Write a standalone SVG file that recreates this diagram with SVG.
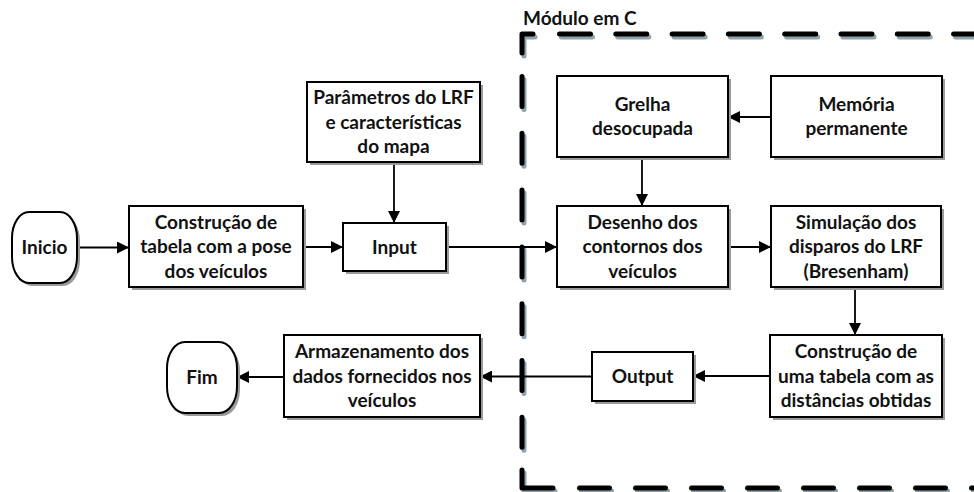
<svg xmlns="http://www.w3.org/2000/svg" width="974" height="492" viewBox="0 0 974 492">
<style>
.box{fill:#fff;stroke:#000;stroke-width:2}
.sh{fill:#9a9a9a;stroke:none}
.t{font-family:Lato,"Liberation Sans",sans-serif;font-weight:bold;font-size:19px;fill:#111;text-anchor:middle}
.lbl{font-family:Lato,"Liberation Sans",sans-serif;font-weight:bold;font-size:19px;fill:#111}
.c{fill:none;stroke:#000;stroke-width:1.8;marker-end:url(#ah)}
.d{fill:none;stroke:#000;stroke-width:5;stroke-linecap:round;stroke-linejoin:round}
.ds{fill:none;stroke:#8fa3ad;stroke-width:5;stroke-linecap:round;stroke-linejoin:round}
</style>
<defs>
<marker id="ah" markerUnits="userSpaceOnUse" markerWidth="13" markerHeight="12" refX="12" refY="6" orient="auto">
<path d="M0,0 L12,6 L0,12 Z" fill="#000"/>
</marker>
</defs>
<rect width="974" height="492" fill="#fff"/>

<g id="module">
<text class="lbl" x="523" y="25">Módulo em C</text>
<g transform="translate(2,3)">
<path class="ds" d="M533 34 H522 V53"/>
<line class="ds" x1="559.5" y1="34" x2="990" y2="34" stroke-dasharray="31 25.3"/>
<line class="ds" x1="522" y1="76.5" x2="522" y2="448.5" stroke-dasharray="30 26.8"/>
<path class="ds" d="M522 470 V488 H553"/>
<line class="ds" x1="579.5" y1="488" x2="990" y2="488" stroke-dasharray="30 26"/>
</g>
<path class="d" d="M533 34 H522 V53"/>
<line class="d" x1="559.5" y1="34" x2="990" y2="34" stroke-dasharray="31 25.3"/>
<line class="d" x1="522" y1="76.5" x2="522" y2="448.5" stroke-dasharray="30 26.8"/>
<path class="d" d="M522 470 V488 H553"/>
<line class="d" x1="579.5" y1="488" x2="990" y2="488" stroke-dasharray="30 26"/>
</g>

<g id="connectors">
<path class="c" d="M77 247.5 H129"/>
<path class="c" d="M303 247 H343"/>
<path class="c" d="M394 162 V223"/>
<path class="c" d="M446 247 H557"/>
<path class="c" d="M771 117 H728"/>
<path class="c" d="M642 157 V206"/>
<path class="c" d="M728 247 H771"/>
<path class="c" d="M855 287 V335"/>
<path class="c" d="M770 376 H693"/>
<path class="c" d="M592 376.5 H480"/>
<path class="c" d="M284 377 H237"/>
</g>

<g id="inicio">
<rect class="sh" x="15" y="215" width="65" height="71" rx="17" ry="26"/>
<rect class="box" x="12" y="212" width="65" height="71" rx="17" ry="26"/>
<text class="t" x="44.5" y="254">Inicio</text>
</g>

<g id="construcao-tabela-pose">
<rect class="sh" x="132" y="209" width="174" height="81"/>
<rect class="box" x="129" y="206" width="174" height="81"/>
<text class="t" x="216" y="228.5">Construção de</text>
<text class="t" x="216" y="253">tabela com a pose</text>
<text class="t" x="216" y="277.5">dos veículos</text>
</g>

<g id="parametros">
<rect class="sh" x="310" y="85" width="173" height="80"/>
<rect class="box" x="307" y="82" width="173" height="80"/>
<text class="t" x="393.5" y="104">Parâmetros do LRF</text>
<text class="t" x="393.5" y="128.5">e características</text>
<text class="t" x="393.5" y="153">do mapa</text>
</g>

<g id="input">
<rect class="sh" x="346" y="226" width="103" height="48"/>
<rect class="box" x="343" y="223" width="103" height="48"/>
<text class="t" x="394.5" y="253.5">Input</text>
</g>

<g id="grelha">
<rect class="sh" x="560" y="79" width="171" height="81"/>
<rect class="box" x="557" y="76" width="171" height="81"/>
<text class="t" x="642.5" y="110.75">Grelha</text>
<text class="t" x="642.5" y="135.25">desocupada</text>
</g>

<g id="memoria">
<rect class="sh" x="774" y="79" width="171" height="81"/>
<rect class="box" x="771" y="76" width="171" height="81"/>
<text class="t" x="856.5" y="110.75">Memória</text>
<text class="t" x="856.5" y="135.25">permanente</text>
</g>

<g id="desenho">
<rect class="sh" x="560" y="209" width="171" height="81"/>
<rect class="box" x="557" y="206" width="171" height="81"/>
<text class="t" x="642.5" y="228.5">Desenho dos</text>
<text class="t" x="642.5" y="253">contornos dos</text>
<text class="t" x="642.5" y="277.5">veículos</text>
</g>

<g id="simulacao">
<rect class="sh" x="774" y="209" width="170" height="81"/>
<rect class="box" x="771" y="206" width="170" height="81"/>
<text class="t" x="856" y="228.5">Simulação dos</text>
<text class="t" x="856" y="253">disparos do LRF</text>
<text class="t" x="856" y="277.5">(Bresenham)</text>
</g>

<g id="construcao-distancias">
<rect class="sh" x="773" y="338" width="172" height="82"/>
<rect class="box" x="770" y="335" width="172" height="82"/>
<text class="t" x="856" y="358">Construção de</text>
<text class="t" x="856" y="382.5">uma tabela com as</text>
<text class="t" x="856" y="407">distâncias obtidas</text>
</g>

<g id="output">
<rect class="sh" x="595" y="355" width="101" height="49"/>
<rect class="box" x="592" y="352" width="101" height="49"/>
<text class="t" x="642.5" y="383">Output</text>
</g>

<g id="armazenamento">
<rect class="sh" x="287" y="338" width="196" height="82"/>
<rect class="box" x="284" y="335" width="196" height="82"/>
<text class="t" x="382" y="358">Armazenamento dos</text>
<text class="t" x="382" y="382.5">dados fornecidos nos</text>
<text class="t" x="382" y="407">veículos</text>
</g>

<g id="fim">
<rect class="sh" x="170" y="345" width="70" height="71" rx="18" ry="26"/>
<rect class="box" x="167" y="342" width="70" height="71" rx="18" ry="26"/>
<text class="t" x="202" y="384">Fim</text>
</g>
</svg>
